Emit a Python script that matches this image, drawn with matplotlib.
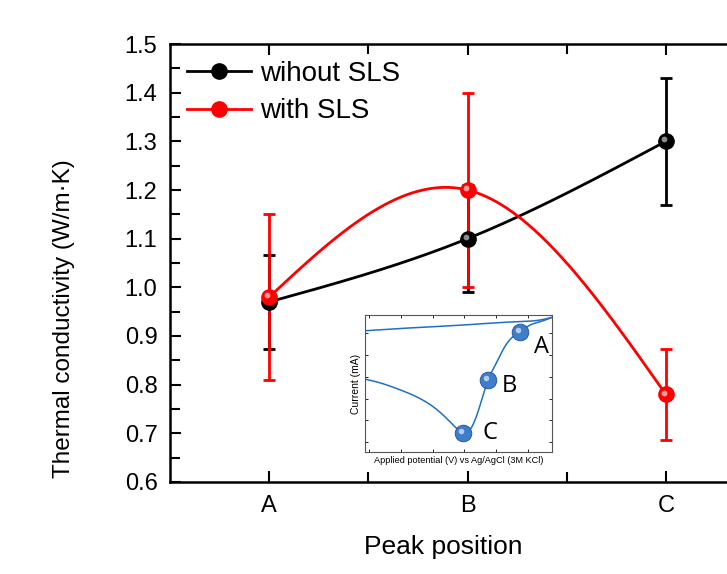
import matplotlib

matplotlib.use("Agg")
import matplotlib.pyplot as plt
import matplotlib.transforms as mtransforms
import numpy as np
from matplotlib.lines import Line2D

plt.rcParams["font.family"] = ["Liberation Sans", "DejaVu Sans"]

# main chart data
positions = ["A", "B", "C"]
without_sls = [0.97, 1.10, 1.30]
without_sls_err = [0.097, 0.11, 0.13]
with_sls = [0.98, 1.20, 0.78]
with_sls_err = [0.17, 0.20, 0.093]

# inset (cyclic voltammogram sketch), normalised units
cv_upper_x = [0.0, 0.259, 0.527, 0.8125, 0.955, 1.0]
cv_upper_y = [0.885, 0.907, 0.927, 0.951, 0.968, 0.983]
cv_lower_x = [0.0, 0.080, 0.170, 0.277, 0.366, 0.4375, 0.491, 0.523, 0.554, 0.580,
              0.607, 0.634, 0.657, 0.6875, 0.723, 0.759, 0.795, 0.827, 0.884, 0.955, 1.0]
cv_lower_y = [0.532, 0.505, 0.463, 0.402, 0.329, 0.244, 0.171, 0.141, 0.151, 0.207,
              0.305, 0.427, 0.524, 0.610, 0.707, 0.793, 0.846, 0.878, 0.927, 0.959, 0.983]
peak_labels = ["A", "B", "C"]
peak_x = [0.827, 0.657, 0.523]
peak_y = [0.878, 0.524, 0.141]


def natural_spline(xs, ys, n=300):
    xs = np.asarray(xs, float)
    ys = np.asarray(ys, float)
    k = len(xs)
    h = np.diff(xs)
    a = np.zeros((k, k))
    r = np.zeros(k)
    a[0, 0] = a[-1, -1] = 1.0
    for i in range(1, k - 1):
        a[i, i - 1] = h[i - 1]
        a[i, i] = 2 * (h[i - 1] + h[i])
        a[i, i + 1] = h[i]
        r[i] = 6 * ((ys[i + 1] - ys[i]) / h[i] - (ys[i] - ys[i - 1]) / h[i - 1])
    m = np.linalg.solve(a, r)
    xx = np.linspace(xs[0], xs[-1], n)
    yy = np.empty_like(xx)
    for j, x in enumerate(xx):
        i = min(np.searchsorted(xs, x, side="right") - 1, k - 2)
        t0 = xs[i + 1] - x
        t1 = x - xs[i]
        yy[j] = (m[i] * t0 ** 3 + m[i + 1] * t1 ** 3) / (6 * h[i]) \
            + (ys[i] / h[i] - m[i] * h[i] / 6) * t0 \
            + (ys[i + 1] / h[i] - m[i + 1] * h[i] / 6) * t1
    return xx, yy


def sphere(ax, x, y, color, light, size, zorder):
    ax.plot(x, y, "o", ms=size, color=color, mec=color, zorder=zorder)
    shift = mtransforms.offset_copy(ax.transData, fig=ax.figure, x=-size * 0.12, y=size * 0.12, units="points")
    ax.plot(x, y, "o", ms=size * 0.38, color=light, mec="none", alpha=0.8, transform=shift, zorder=zorder + 0.1)


fig = plt.figure(figsize=(7.27, 5.74), dpi=100)
ax = fig.add_axes([170 / 727, 92 / 574, 595 / 727, 438 / 574])

x = np.arange(1, len(positions) + 1)

for vals, errs, color, light, z in [
    (without_sls, without_sls_err, "black", "#b0b0b0", 3),
    (with_sls, with_sls_err, "#ff0000", "#ffc0c0", 4),
]:
    xx, yy = natural_spline(x, vals)
    ax.plot(xx, yy, color=color, lw=2.0, zorder=z)
    ax.errorbar(x, vals, yerr=errs, fmt="none", ecolor=color, elinewidth=2.0,
                capsize=4, capthick=2.0, zorder=z)
    sphere(ax, x, vals, color, light, 11, z + 2)

ax.set_xlim(0.5, 3.5)
ax.set_ylim(0.6, 1.5)
ax.set_xticks(x, positions)
ax.set_xticks([1.5, 2.5], minor=True)
ax.set_yticks(np.arange(0.6, 1.51, 0.1))
ax.set_yticks(np.arange(0.65, 1.5, 0.1), minor=True)
ax.yaxis.set_major_formatter(matplotlib.ticker.FormatStrFormatter("%.1f"))
ax.tick_params(which="both", direction="in", top=True, right=True, width=1.5,
               labelsize=17, pad=9)
ax.tick_params(which="major", length=8)
ax.tick_params(which="minor", length=7)
for sp in ax.spines.values():
    sp.set_linewidth(1.8)
ax.set_xlabel("Peak position", fontsize=19)
ax.xaxis.set_label_coords(0.459, -0.121)
ax.set_ylabel("Thermal conductivity (W/m·K)", fontsize=17.5)
ax.yaxis.set_label_coords(-0.16, 0.374)

handles = [
    Line2D([], [], color="black", lw=2, marker="o", ms=11, mfc="black"),
    Line2D([], [], color="#ff0000", lw=2, marker="o", ms=11, mfc="#ff0000"),
]
ax.legend(handles, ["wihout SLS", "with SLS"], loc="upper left", frameon=False,
          fontsize=20, handlelength=2.3, handletextpad=0.35, labelspacing=0.42,
          borderaxespad=0.2, bbox_to_anchor=(0.0, 1.0))

# inset
ins = fig.add_axes([365 / 727, 122 / 574, 187 / 727, 137 / 574])
ux, uy = natural_spline(cv_upper_x, cv_upper_y)
lx, ly = natural_spline(cv_lower_x, cv_lower_y)
ins.plot(ux, uy, color="#1f6fc4", lw=1.1)
ins.plot(lx, ly, color="#1f6fc4", lw=1.1)
label_offsets = [(10, -11), (10, -4), (14, 0)]
for lab, px, py, off in zip(peak_labels, peak_x, peak_y, label_offsets):
    ins.plot(px, py, "o", ms=12, color="#3f7ccb", mec="#1f4f8f", mew=0.6, zorder=4)
    ins.plot(px, py, "o", ms=4, color="#cfe3fa", mec="none", alpha=0.8, zorder=5,
             transform=mtransforms.offset_copy(ins.transData, fig=fig, x=-1.5, y=1.5, units="points"))
    ins.annotate(lab, (px, py), xytext=off, textcoords="offset points",
                 fontsize=17, ha="left", va="center", family=["Open Sans", "DejaVu Sans"])
ins.set_xlim(0, 1)
ins.set_ylim(0, 1)
ins.set_xticks([0.023, 0.193, 0.363, 0.532, 0.702, 0.871])
ins.set_yticks([0.073, 0.232, 0.390, 0.549, 0.707, 0.866])
ins.tick_params(direction="in", top=True, right=True, length=2, width=0.6,
                labelbottom=False, labelleft=False)
for sp in ins.spines.values():
    sp.set_linewidth(0.8)
    sp.set_color("#555555")
ins.set_xlabel("Applied potential (V) vs Ag/AgCl (3M KCl)", fontsize=6.6, labelpad=3)
ins.set_ylabel("Current (mA)", fontsize=7.5, labelpad=3)

fig.savefig("out.png", dpi=100)
